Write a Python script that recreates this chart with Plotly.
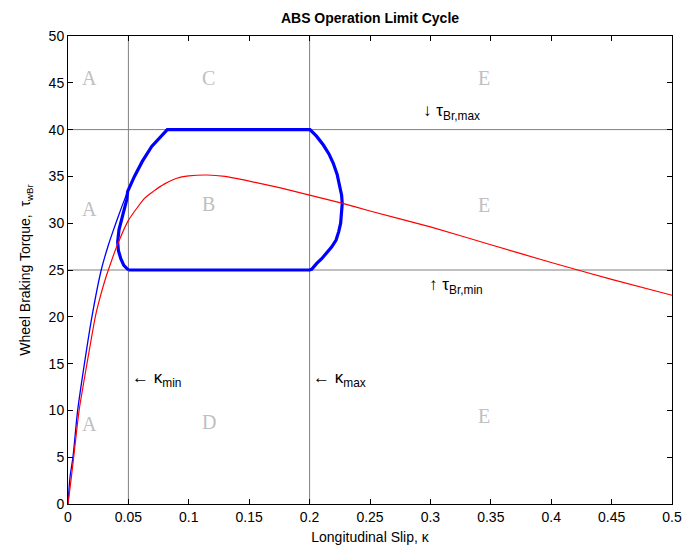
import plotly.graph_objects as go

# Tyre braking characteristic (red)
red_slip = [0, 0.0028, 0.0047, 0.0092, 0.0157, 0.0226, 0.026, 0.0306, 0.0334, 0.0403,
            0.05, 0.0637, 0.0706, 0.08, 0.09, 0.1, 0.115, 0.13, 0.15, 0.175, 0.2,
            0.225, 0.25, 0.3, 0.35, 0.4, 0.45, 0.5]
red_torque = [0, 2.9, 5, 10, 15, 20, 21.8, 23.9, 25, 27.5,
              30.3, 32.7, 33.4, 34.2, 34.8, 35.05, 35.15, 35.0, 34.5, 33.8, 33.0,
              32.2, 31.3, 29.6, 27.7, 25.8, 24.0, 22.3]

# Initial braking transient (thin blue)
ramp_slip = [0, 0.0017, 0.0041, 0.008, 0.0136, 0.0198, 0.0275, 0.0335, 0.0385, 0.0435, 0.0494]
ramp_torque = [0, 2.9, 5, 10, 15, 20, 25, 27.7, 29.6, 31.4, 33.4]

# ABS limit cycle (thick blue)
cycle_slip = [0.05, 0.0462, 0.0437, 0.0417, 0.0411, 0.0422, 0.045, 0.0486, 0.0494, 0.055,
              0.0615, 0.0693, 0.0822, 0.2, 0.2003, 0.2057, 0.2114, 0.2160, 0.2196, 0.2228,
              0.2252, 0.2265, 0.227, 0.2266, 0.2257, 0.2241, 0.2219, 0.2185, 0.2141, 0.2100,
              0.2059, 0.2017, 0.2, 0.05]
cycle_torque = [25.0, 25.5, 26.2, 27.1, 28.0, 29.3, 30.7, 32.5, 33.4, 35.0,
                36.6, 38.2, 40.0, 40.0, 40.0, 39.3, 38.35, 37.4, 36.4, 35.2,
                33.9, 33.0, 32.1, 31.0, 30.0, 29.1, 28.2, 27.5, 26.8, 26.2,
                25.7, 25.07, 25.0, 25.0]

# Threshold levels
kappa_min, kappa_max = 0.05, 0.2
tau_min, tau_max = 25, 40

# Region labels
region_text = ["A", "C", "E", "A", "B", "E", "A", "D", "E"]
region_x = [0.0174, 0.116, 0.344, 0.0174, 0.116, 0.344, 0.0174, 0.117, 0.344]
region_y = [45.5, 45.5, 45.5, 31.5, 32.0, 31.9, 8.6, 8.8, 9.4]

x_ticks = [0, 0.05, 0.1, 0.15, 0.2, 0.25, 0.3, 0.35, 0.4, 0.45, 0.5]
x_tick_text = ["0", "0.05", "0.1", "0.15", "0.2", "0.25", "0.3", "0.35", "0.4", "0.45", "0.5"]
y_ticks = list(range(0, 51, 5))

fig = go.Figure()

grey = "#808080"
for k in (kappa_min, kappa_max):
    fig.add_trace(go.Scatter(x=[k, k], y=[0, 50], mode="lines",
                             line=dict(color=grey, width=1), hoverinfo="skip"))
for t in (tau_min, tau_max):
    fig.add_trace(go.Scatter(x=[0, 0.5], y=[t, t], mode="lines",
                             line=dict(color=grey, width=1), hoverinfo="skip"))

fig.add_trace(go.Scatter(x=ramp_slip, y=ramp_torque, mode="lines",
                         line=dict(color="#0000FF", width=1.3, shape="spline", smoothing=0.8)))
fig.add_trace(go.Scatter(x=cycle_slip, y=cycle_torque, mode="lines",
                         line=dict(color="#0000FF", width=3.2)))
fig.add_trace(go.Scatter(x=red_slip, y=red_torque, mode="lines",
                         line=dict(color="#FF0000", width=1.2, shape="spline", smoothing=0.6)))

annotations = []
for txt, xx, yy in zip(region_text, region_x, region_y):
    annotations.append(dict(x=xx, y=yy, xref="x", yref="y", text=txt, showarrow=False,
                            font=dict(family="Liberation Serif", size=20, color="#C0C0C0")))

label_font = dict(family="Liberation Sans", size=17, color="black")
annotations += [
    dict(x=0.292, y=41.9, xref="x", yref="y", xanchor="left", showarrow=False,
         text="\u2193 \u03c4<sub>Br,max</sub>", font=label_font),
    dict(x=0.2975, y=23.3, xref="x", yref="y", xanchor="left", showarrow=False,
         text="\u2191 \u03c4<sub>Br,min</sub>", font=label_font),
    dict(x=0.051, y=13.4, xref="x", yref="y", xanchor="left", showarrow=False,
         text="\u2190 \u03ba<sub>min</sub>", font=label_font),
    dict(x=0.201, y=13.4, xref="x", yref="y", xanchor="left", showarrow=False,
         text="\u2190 \u03ba<sub>max</sub>", font=label_font),
]

fig.update_layout(
    width=683, height=552,
    margin=dict(l=68, r=11, t=36, b=48, autoexpand=False),
    paper_bgcolor="white", plot_bgcolor="white",
    showlegend=False,
    title=dict(text="<b>ABS Operation Limit Cycle</b>", x=0.5 * (68 + 672) / 683, xanchor="center",
               y=1 - 18 / 552, yanchor="middle",
               font=dict(family="Liberation Sans", size=14, color="black")),
    annotations=annotations,
    font=dict(family="Liberation Sans", size=14, color="black"),
)

axis_common = dict(showgrid=False, zeroline=False, showline=True, linecolor="black", linewidth=1,
                   mirror="ticks", ticks="inside", ticklen=5, tickcolor="black", automargin=False,
                   tickfont=dict(family="Liberation Sans", size=14, color="black"))
fig.update_xaxes(range=[0, 0.5], tickvals=x_ticks, ticktext=x_tick_text,
                 title=dict(text="Longitudinal Slip, \u03ba", standoff=8,
                            font=dict(family="Liberation Sans", size=14)),
                 **axis_common)
fig.update_yaxes(range=[0, 50], tickvals=y_ticks,
                 title=dict(text="Wheel Braking Torque,  \u03c4<sub>wBr</sub>", standoff=14,
                            font=dict(family="Liberation Sans", size=14)),
                 **axis_common)

fig.write_html("out.html")
